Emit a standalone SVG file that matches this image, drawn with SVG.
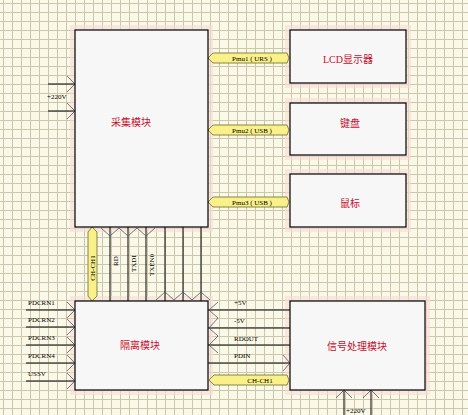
<svg xmlns="http://www.w3.org/2000/svg" width="468" height="415" viewBox="0 0 468 415">
<defs>
<pattern id="grid" x="3" y="3" width="9" height="9" patternUnits="userSpaceOnUse">
<rect width="9" height="9" fill="#faf8e8"/>
<path d="M0,0.5 H9 M0.5,0 V9" stroke="#cbc7a8" stroke-width="1" fill="none"/>
</pattern>
<style>
.box{fill:#f7f7f7;stroke:#000;stroke-width:1.2}
.halo{fill:#f7dcd6}
.title{font-family:"Liberation Serif","Noto Sans CJK SC",serif;font-size:10px;fill:#c8102e;text-anchor:middle}
.lbl{font-family:"Liberation Serif","Noto Sans CJK SC",serif;font-size:7px;fill:#000}
.wire{stroke:#000;stroke-width:1;fill:none}
.chev{stroke:#55556a;stroke-width:0.8;fill:none}
.port{fill:#f9f08a;stroke:#6b6b2a;stroke-width:0.8}
.plbl{font-family:"Liberation Serif",serif;font-size:7px;fill:#000;text-anchor:middle}
</style>
</defs>
<rect width="468" height="415" fill="url(#grid)"/>

<g id="halos">
<rect class="halo" x="70" y="25" width="143" height="207" opacity="0.6"/>
<rect class="halo" x="285" y="25" width="126" height="63" opacity="0.6"/>
<rect class="halo" x="285" y="98" width="126" height="62" opacity="0.6"/>
<rect class="halo" x="285" y="169" width="126" height="63" opacity="0.6"/>
<rect class="halo" x="70" y="296" width="143" height="99" opacity="0.6"/>
<rect class="halo" x="285" y="296" width="145" height="99" opacity="0.6"/>
</g>

<g id="connectors">
<path class="wire" d="M48,84 H75 M48,111 H75"/>
<path class="chev" d="M67,76 L75,84 L67,92 M67,103 L75,111 L67,119"/>
<text class="lbl" x="47" y="99">+220V</text>
<path class="port" d="M208,58 L213,53 H287 L289,58 L287,63 H213 Z"/>
<text class="plbl" x="252" y="60.5">Pmu1 ( URS )</text>
<path class="port" d="M208,130 L213,125 H287 L289,130 L287,135 H213 Z"/>
<text class="plbl" x="252" y="132.5">Pmu2 ( USB )</text>
<path class="port" d="M208,202 L213,197 H287 L289,202 L287,207 H213 Z"/>
<text class="plbl" x="252" y="204.5">Pmu3 ( USB )</text>
<path class="port" d="M92,227 L97,232 V296 L92,301 L88,296 V232 Z"/>
<text class="plbl" transform="translate(95,268) rotate(-90)">CH-CH1</text>
<path class="wire" d="M110,227 V301 M128,227 V301 M146,227 V301"/>
<path class="chev" d="M101,228 L110,236 L119,228 L128,236 L137,228 L146,236 L155,228"/>
<text class="lbl" transform="translate(118,266) rotate(-90)">RD</text>
<text class="lbl" transform="translate(136,272) rotate(-90)">TXDI</text>
<text class="lbl" transform="translate(154,276) rotate(-90)">TXEN0</text>
<path class="wire" d="M165,227 V301 M183,227 V301 M201,227 V301"/>
<path class="chev" d="M156,300 L165,292 L174,300 L183,292 L192,300 L201,292 L210,300"/>
<text class="lbl" x="155" y="307">-5V</text>
<text class="lbl" x="172" y="307">+12V-12V</text>
<path class="wire" d="M26,310 H75 M26,327 H75 M26,345 H75 M26,363 H75 M26,381 H75"/>
<path class="chev" d="M67,302 L75,310 L67,318 M67,319 L75,327 L67,335 M67,337 L75,345 L67,353 M67,355 L75,363 L67,371 M67,373 L75,381 L67,389"/>
<text class="lbl" x="28" y="305">PDCRN1</text>
<text class="lbl" x="28" y="322">PDCRN2</text>
<text class="lbl" x="28" y="340">PDCRN3</text>
<text class="lbl" x="28" y="358">PDCRN4</text>
<text class="lbl" x="28" y="376">USSV</text>
<path class="wire" d="M208,310 H290 M208,328 H290 M208,345 H290 M208,363 H290"/>
<path class="chev" d="M218,302 L209,310 L218,318 L209,328 L218,336 L209,345 L218,353"/>
<path class="chev" d="M283,355 L290,363 L283,371"/>
<text class="lbl" x="234" y="305">+5V</text>
<text class="lbl" x="234" y="323">-5V</text>
<text class="lbl" x="234" y="341">RDOUT</text>
<text class="lbl" x="234" y="358">PDIN</text>
<path class="port" d="M209,380 L214,375 H287 L289,380 L287,385 H214 Z"/>
<text class="plbl" x="260" y="382.5">CH-CH1</text>
<path class="wire" d="M344,390 V415 M371,390 V415"/>
<path class="chev" d="M336,398 L344,390 L352,398 M363,398 L371,390 L379,398"/>
<text class="lbl" x="346" y="413">+220V</text>
</g>

<g id="node-caiji">
<rect class="box" x="75" y="30" width="133" height="197"/>
<text class="title" x="131" y="126">采集模块</text>
</g>
<g id="node-lcd">
<rect class="box" x="290" y="30" width="116" height="53"/>
<text class="title" x="348" y="63">LCD显示器</text>
</g>
<g id="node-jianpan">
<rect class="box" x="290" y="103" width="116" height="52"/>
<text class="title" x="350" y="127">键盘</text>
</g>
<g id="node-shubiao">
<rect class="box" x="290" y="174" width="116" height="53"/>
<text class="title" x="350" y="207">鼠标</text>
</g>
<g id="node-geli">
<rect class="box" x="75" y="301" width="133" height="89"/>
<text class="title" x="140" y="349">隔离模块</text>
</g>
<g id="node-xinhao">
<rect class="box" x="290" y="301" width="135" height="89"/>
<text class="title" x="357" y="350">信号处理模块</text>
</g>
</svg>
